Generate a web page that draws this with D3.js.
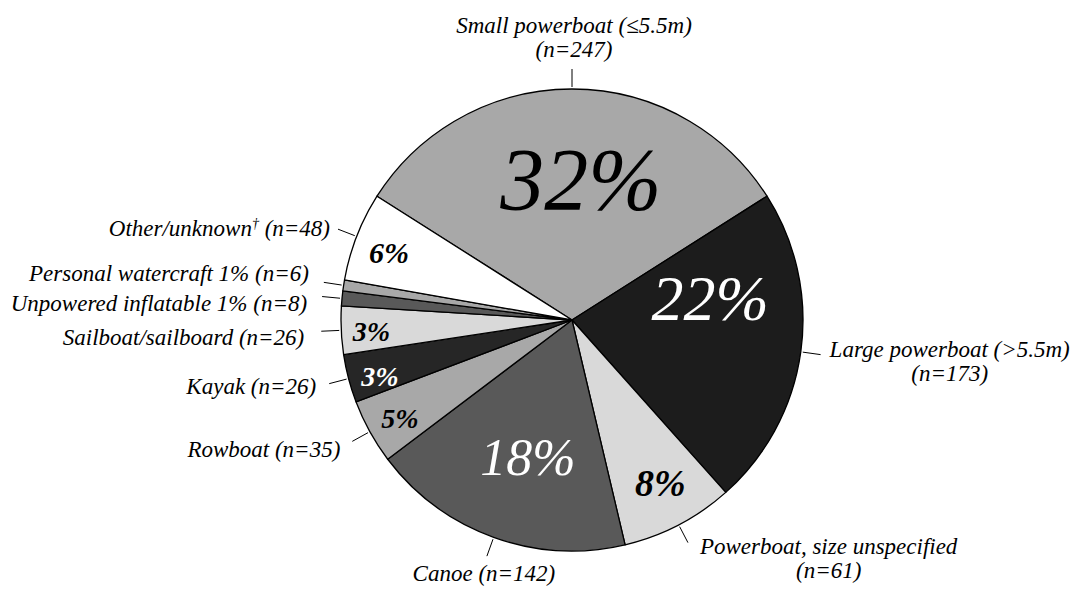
<!DOCTYPE html>
<html>
<head>
<meta charset="utf-8">
<script src="https://cdn.jsdelivr.net/npm/d3@7"></script>
<style>
  html, body { margin: 0; padding: 0; background: #ffffff; }
  svg { display: block; }
</style>
</head>
<body>
<svg id="chart" width="1078" height="589"></svg>
<script>
// ---- data ----
const categories = [
  "Small powerboat (≤5.5m)",
  "Large powerboat (>5.5m)",
  "Powerboat, size unspecified",
  "Canoe",
  "Rowboat",
  "Kayak",
  "Sailboat/sailboard",
  "Unpowered inflatable",
  "Personal watercraft",
  "Other/unknown"
];
const counts = [247, 173, 61, 142, 35, 26, 26, 8, 6, 48];
const pctLabels = ["32%", "22%", "8%", "18%", "5%", "3%", "3%", "", "", "6%"];
const labelLines = [
  ["Small powerboat (≤5.5m)", "(n=247)"],
  ["Large powerboat (>5.5m)", "(n=173)"],
  ["Powerboat, size unspecified", "(n=61)"],
  ["Canoe (n=142)"],
  ["Rowboat (n=35)"],
  ["Kayak (n=26)"],
  ["Sailboat/sailboard (n=26)"],
  ["Unpowered inflatable 1% (n=8)"],
  ["Personal watercraft 1% (n=6)"],
  ["Other/unknown† (n=48)"]
];

// ---- styles / layout ----
const FONT = '"Liberation Serif"';
const fills = ["#a8a8a8", "#1c1c1c", "#d9d9d9", "#595959", "#a8a8a8", "#262626", "#d9d9d9", "#595959", "#a8a8a8", "#ffffff"];
const pctColors = ["#000", "#fff", "#000", "#fff", "#000", "#fff", "#000", "#000", "#000", "#000"];
const pctSizes = [88, 64, 38, 52, 28, 28, 28, 0, 0, 30];
const pctWeights = ["normal", "normal", "bold", "normal", "bold", "bold", "bold", "normal", "normal", "bold"];
const pctRadius = [142, 140, 185, 144, 198, 200, 201, 0, 0, 195];
const pctAngleShift = [3.6, -17, -1, -2, -0.7, -1.5, -0.7, 0, 0, -1];
const labelAnchor = ["middle", "start", "start", "middle", "end", "end", "end", "end", "end", "end"];
const labelOffset = [[2, -36], [9, 2], [12, 11], [-3, 25], [-12, 16], [-13, 10], [-17, 14], [-15, 14], [-15, -1], [-8, 7]];
const lineH = 24;

const width = 1078, height = 589;
const cx = 572, cy = 320, R = 231;

const svg = d3.select("#chart");
const g = svg.append("g").attr("transform", `translate(${cx},${cy})`);

const total = d3.sum(counts);
const startA = -(counts[0] / total) * Math.PI; // small powerboat centred at top

const pie = d3.pie().sort(null).value(d => d)
  .startAngle(startA).endAngle(startA + 2 * Math.PI);
const arcs = pie(counts);
const arc = d3.arc().innerRadius(0).outerRadius(R);

g.selectAll("path.slice")
  .data(arcs)
  .join("path")
  .attr("class", "slice")
  .attr("d", arc)
  .attr("fill", (d, i) => fills[i])
  .attr("stroke", "#000")
  .attr("stroke-width", 1.3)
  .attr("stroke-linejoin", "round");

// percentage labels
const deg = Math.PI / 180;
arcs.forEach((d, i) => {
  if (pctLabels[i] === "") return;
  const a = (d.startAngle + d.endAngle) / 2 + pctAngleShift[i] * deg;
  const r = pctRadius[i];
  g.append("text")
    .attr("x", r * Math.sin(a))
    .attr("y", -r * Math.cos(a))
    .attr("dy", "0.35em")
    .attr("text-anchor", "middle")
    .style("font-family", FONT)
    .style("font-style", "italic")
    .style("font-weight", pctWeights[i])
    .attr("font-size", pctSizes[i])
    .attr("fill", pctColors[i])
    .text(pctLabels[i]);
});

// write a label line, setting a dagger as superscript
function fillLine(sel, str) {
  const parts = str.split("†");
  parts.forEach((p, k) => {
    if (k > 0) {
      sel.append("tspan").attr("font-size", 14).attr("dy", -8).text("†");
      sel.append("tspan").attr("font-size", 23).attr("dy", 8).text(p);
    } else {
      sel.append("tspan").text(p);
    }
  });
}

// leader ticks and category labels
const r1 = R + 2, r2 = R + 20;
arcs.forEach((d, i) => {
  const a = (d.startAngle + d.endAngle) / 2;
  const x1 = r1 * Math.sin(a), y1 = -r1 * Math.cos(a);
  const x2 = r2 * Math.sin(a), y2 = -r2 * Math.cos(a);
  g.append("line")
    .attr("x1", x1).attr("y1", y1).attr("x2", x2).attr("y2", y2)
    .attr("stroke", "#000").attr("stroke-width", 1);

  const lines = labelLines[i];
  const t = g.append("text")
    .style("font-family", FONT)
    .style("font-style", "italic")
    .attr("font-size", 23)
    .attr("fill", "#000")
    .attr("text-anchor", labelAnchor[i]);
  const bx = x2 + labelOffset[i][0], by = y2 + labelOffset[i][1];
  if (lines.length === 1) {
    t.attr("x", bx).attr("y", by);
    fillLine(t, lines[0]);
  } else {
    const t1 = t.append("tspan").attr("x", bx).attr("y", by).text(lines[0]);
    const w = t1.node().getComputedTextLength();
    let centre = bx;
    if (labelAnchor[i] === "start") centre = bx + w / 2;
    if (labelAnchor[i] === "end") centre = bx - w / 2;
    t.attr("text-anchor", "middle");
    t1.attr("x", centre);
    t.append("tspan").attr("x", centre).attr("y", by + lineH).text(lines[1]);
  }
});
</script>
</body>
</html>
